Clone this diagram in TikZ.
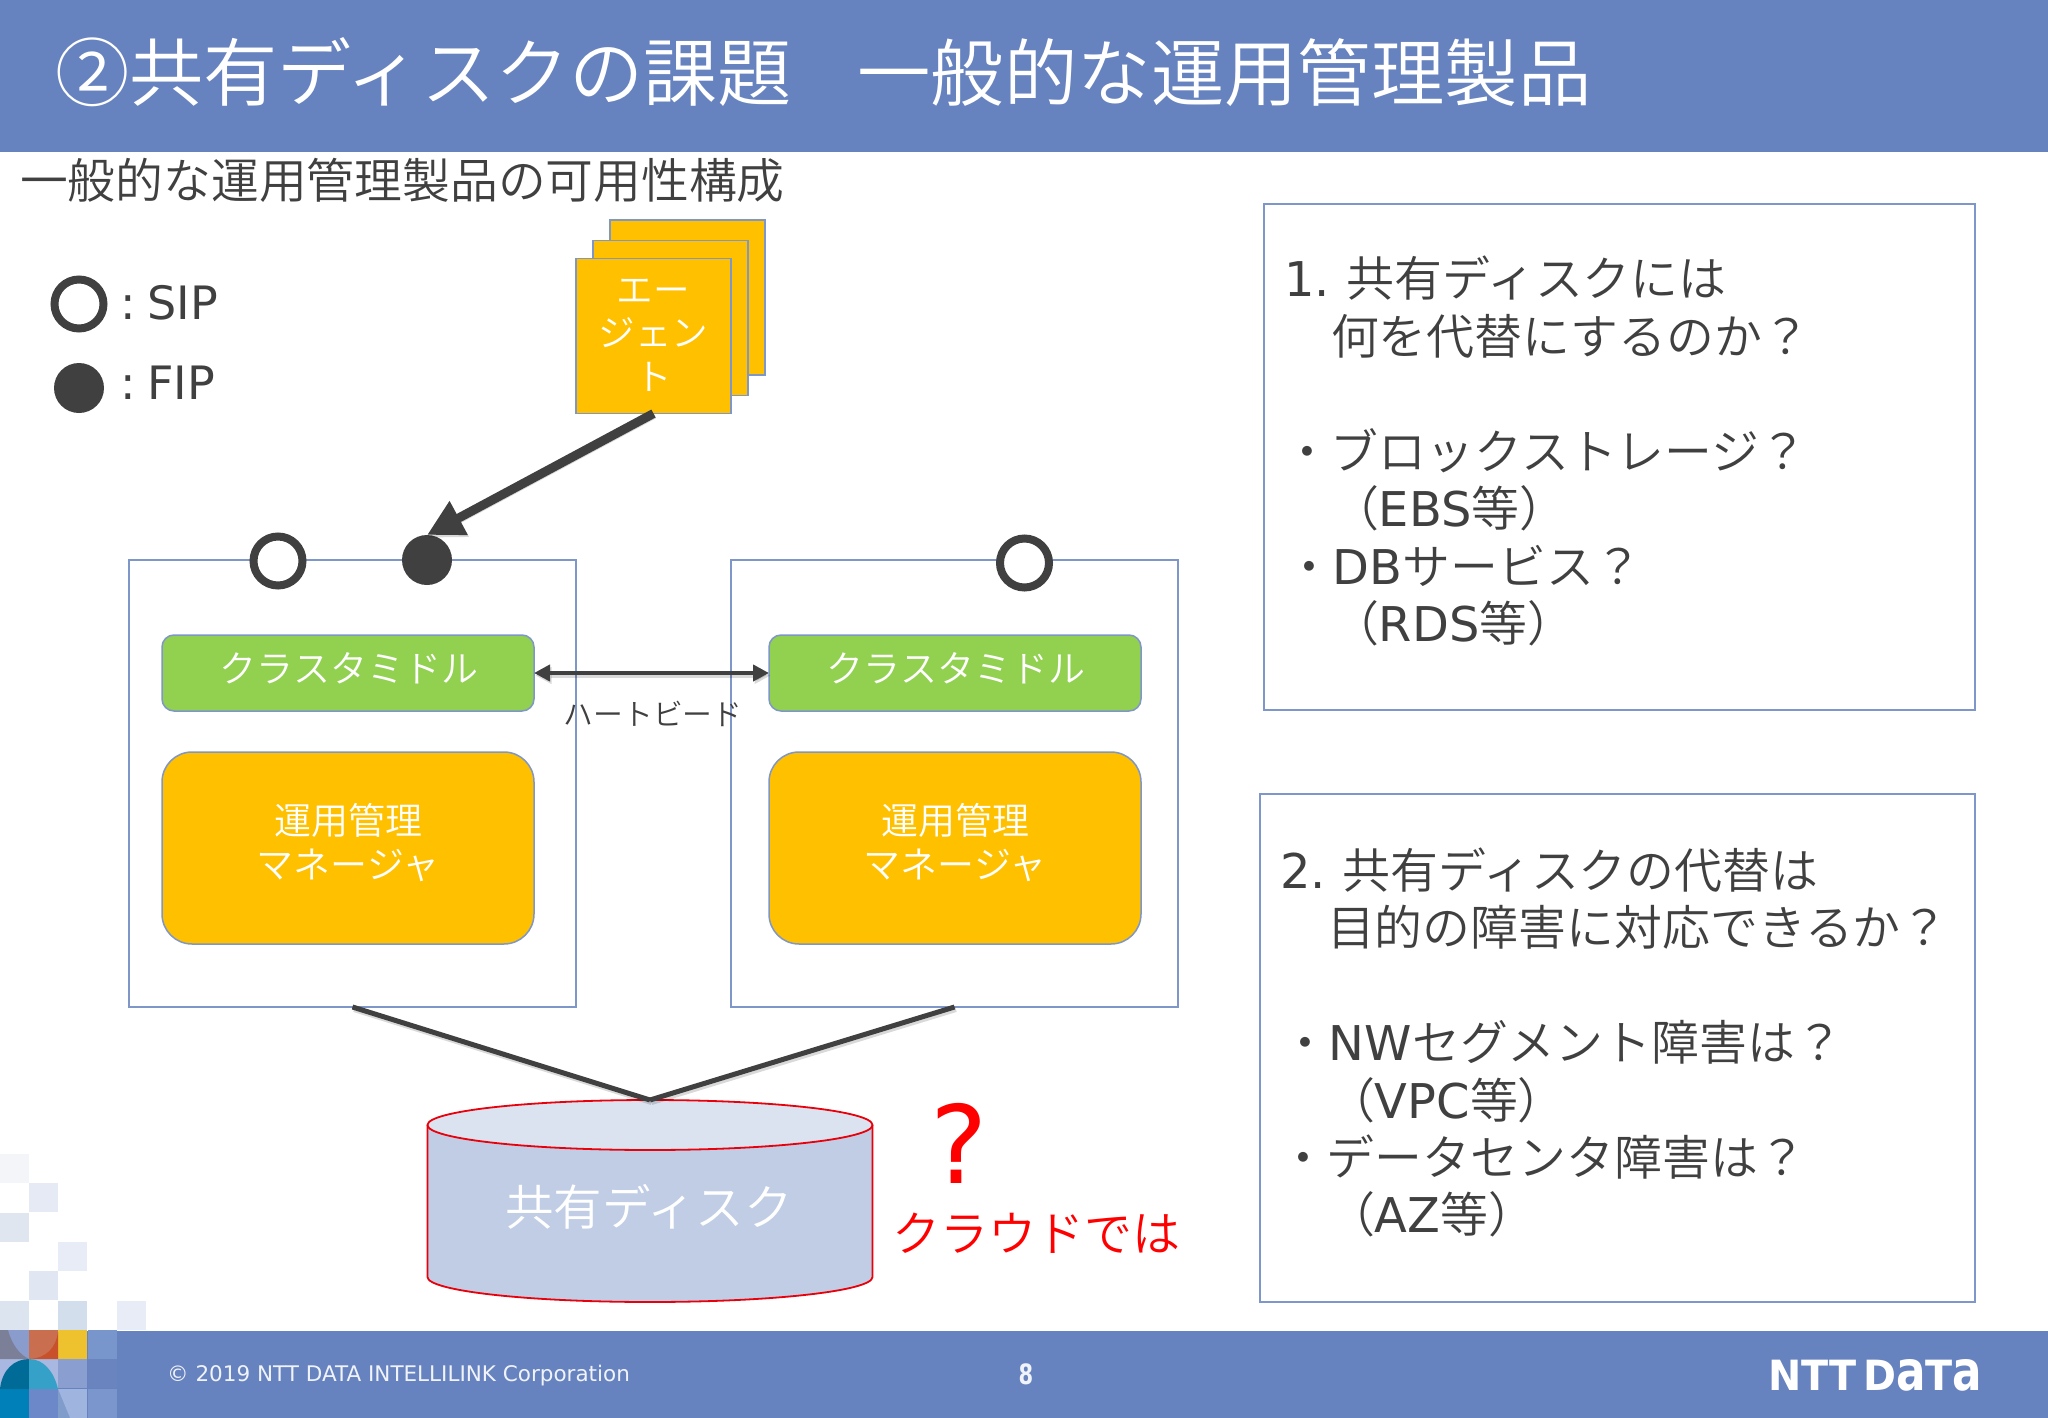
\documentclass[tikz,border=0pt]{standalone}
\usepackage{fontspec}
\usepackage{graphicx}
\usetikzlibrary{arrows.meta}
\setmainfont{DejaVu Sans}
\newfontfamily\jp{Noto Sans CJK JP DemiLight}
\newfontfamily\latf{DejaVu Sans}
\newcommand{\lat}[1]{{\latf #1}}
\newcommand{\fsz}[1]{\fontsize{#1}{#1}\selectfont}
\definecolor{band}{HTML}{6783BF}
\definecolor{edge}{HTML}{7F96C8}
\definecolor{ink}{HTML}{404040}
\definecolor{amber}{HTML}{FFC000}
\definecolor{leaf}{HTML}{92D050}
\definecolor{diskred}{HTML}{E8000B}
\definecolor{diskbody}{HTML}{C0CDE5}
\definecolor{disktop}{HTML}{DCE3F0}
\tikzset{
  x=1pt,y=-1pt,
  txt/.style={anchor=west,inner sep=0pt,outer sep=0pt,text=ink,font=\jp\fsz{47.9}},
  wtxt/.style={inner sep=0pt,outer sep=0pt,text=white,font=\jp\fsz{37},align=center},
  panel/.style={draw=edge,line width=1.5pt,fill=white,inner sep=0pt,outer sep=0pt},
  card/.style={panel,fill=amber,minimum width=155pt,minimum height=155pt},
  server/.style={panel,minimum width=447pt,minimum height=447pt},
  mid/.style={panel,fill=leaf,rounded corners=12pt,minimum width=372pt,minimum height=76pt},
  mgr/.style={panel,fill=amber,rounded corners=30pt,minimum width=372pt,minimum height=192pt},
  sip/.style={circle,draw=ink,line width=8pt,fill=white,minimum size=49pt,inner sep=0pt,outer sep=0pt},
  fip/.style={circle,fill=ink,minimum size=50pt,inner sep=0pt,outer sep=0pt},
  link/.style={draw=ink,line width=5pt,preaction={draw=black,opacity=.15,line width=5pt,transform canvas={shift={(1.5pt,-2.5pt)}}}},
  redtxt/.style={inner sep=0pt,outer sep=0pt,text=red,font=\jp\fsz{48}}
}
\newcommand{\cell}[3]{\definecolor{tmpc}{HTML}{#3}\fill[tmpc] (#1,#2) rectangle ++(29.3,29.3);}
\begin{document}
\begin{tikzpicture}
\useasboundingbox (0,0) rectangle (2048,1418);
\fill[white] (0,0) rectangle (2048,1418);
% header, footer
\fill[band] (0,0) rectangle (2048,152);
\fill[band] (0,1331) rectangle (2048,1418);
% mosaic above footer
\cell{0}{1154}{F3F5F8}
\cell{29}{1183}{E6EAF5}
\cell{0}{1213}{E0E6F0}
\cell{58}{1242}{E8ECF7}
\cell{29}{1271}{E0E6F2}
\cell{0}{1301}{DCE4F0}
\cell{58}{1301}{D3DEEC}
\cell{117}{1301}{E8ECF7}
% mosaic in footer
\cell{0}{1330}{8A9CCB}
\cell{29}{1330}{C96F50}
\cell{58}{1330}{EEC12E}
\cell{88}{1330}{7896CB}
\cell{0}{1359}{A8B8E0}
\cell{29}{1359}{A8B8E0}
\cell{58}{1359}{8A9FD0}
\cell{88}{1359}{6A84C0}
\cell{0}{1389}{0080B8}
\cell{29}{1389}{6D88C8}
\cell{58}{1389}{A0B4E0}
\cell{88}{1389}{7B96CC}
\definecolor{tmpc}{HTML}{006B96}
\fill[tmpc] (0,1389) .. controls (2,1370) and (14,1359) .. (29,1359) -- (29,1389) -- cycle;
\definecolor{tmpc}{HTML}{35A0C8}
\fill[tmpc] (29,1359) .. controls (44,1359) and (54,1372) .. (58,1389) -- (29,1389) -- cycle;
\definecolor{tmpc}{HTML}{7C7F98}
\fill[tmpc] (0,1330) -- (8,1330) .. controls (12,1345) and (20,1355) .. (29,1359) -- (0,1359) -- cycle;
\definecolor{tmpc}{HTML}{C8502A}
\fill[tmpc] (58,1332) .. controls (56,1348) and (46,1358) .. (30,1359) -- (58,1359) -- cycle;
\definecolor{tmpc}{HTML}{7F9CCB}
\fill[tmpc] (58,1389) -- (70,1418) -- (58,1418) -- cycle;
% titles
\node[anchor=west,inner sep=0pt,text=white,font=\jp\fsz{73.4}] (title) at (55,72) {{\fsz{74.2}②共有ディスクの課題}\kern-8pt　一般的な運用管理製品};
\node[txt,font=\jp\fsz{47.8}] (sub) at (20,180) {一般的な運用管理製品の可用性構成};
% legend
\node[sip] (lsip) at (79,304) {};
\node[fip] (lfip) at (79,388) {};
\node[txt,font=\latf\fsz{46}] (lsipt) at (120,303) {:\kern12pt SIP};
\node[txt,font=\latf\fsz{46}] (lfipt) at (120,383) {:\kern12pt FIP};
% agent cards
\node[card] (agentB) at (687.5,297.5) {};
\node[card] (agentM) at (670.5,318) {};
\node[card] (agentF) at (653.5,336) {};
\node[wtxt,text width=150pt,font=\jp\fsz{36.6},inner sep=0pt,align=center] (agentT) at (653.5,335) {エー\\[7pt]ジェン\\[7pt]ト};
% servers
\node[server] (srvL) at (352.5,783.5) {};
\node[server] (srvR) at (954.5,783.5) {};
\node[sip] (sipL) at (278,561) {};
\node[fip] (fipL) at (427,560) {};
\node[sip] (sipR) at (1024.5,563) {};
\node[mid] (midL) at (348,673) {};
\node[mid] (midR) at (955,673) {};
\node[wtxt] (midLt) at (349,668) {クラスタミドル};
\node[wtxt] (midRt) at (956,668) {クラスタミドル};
\node[mgr] (mgrL) at (348,848) {};
\node[mgr] (mgrR) at (955,848) {};
\node[wtxt] (mgrLt) at (348,843) {運用管理\\[7pt]マネージャ};
\node[wtxt] (mgrRt) at (955,843) {運用管理\\[7pt]マネージャ};
% disk
\coordinate (diskTop) at (650,1100);
\fill[diskbody] (427.5,1125) -- (427.5,1277) arc[start angle=180,end angle=360,x radius=222.5,y radius=-25] -- (872.5,1125) -- cycle;
\draw[diskred,line width=1.8pt] (427.5,1125) -- (427.5,1277) arc[start angle=180,end angle=360,x radius=222.5,y radius=-25] -- (872.5,1125);
\draw[diskred,line width=1.8pt,fill=disktop] (650,1125) ellipse[x radius=222.5,y radius=25];
\node[wtxt,font=\jp\fsz{48.5},text=white] (disk) at (649,1207) {共有ディスク};
\node[redtxt,font=\latf\fsz{108}] (qm) at (959,1143) {?};
\node[redtxt] (cloud) at (1036,1233) {クラウドでは};
% connectors
\draw[link,line width=9pt,-{Triangle[length=36pt,width=36pt]}] (agentF.south) -- (fipL.north);
\draw[link,line width=4.5pt,{Triangle[length=16pt,width=16pt]}-{Triangle[length=16pt,width=16pt]}] (midL.east) -- (midR.west);
\draw[link] (srvL.south) -- (diskTop);
\draw[link] (srvR.south) -- (diskTop);
\node[inner sep=0pt,text=ink,font=\jp\fsz{29.8}] (hb) at (653,714) {ハートビード};
% right panels
\node[panel,minimum width=711pt,minimum height=506pt] (box1) at (1619.5,457) {};
\node[panel,minimum width=715pt,minimum height=508pt] (box2) at (1617.5,1048) {};
\node[txt] (b1a) at (1284,278) {\lat{1.}\kern17pt 共有ディスクには};
\node[txt] (b1b) at (1331,336) {何を代替にするのか？};
\node[txt] (b1c) at (1283,451) {・ブロックストレージ？};
\node[txt] (b1d) at (1331,508) {（\lat{EBS}等）};
\node[txt] (b1e) at (1285,566) {・\lat{DB}サービス？};
\node[txt] (b1f) at (1331,623) {（\lat{RDS}等）};
\node[txt] (b2a) at (1280,870) {\lat{2.}\kern17pt 共有ディスクの代替は};
\node[txt] (b2b) at (1327,927) {目的の障害に対応できるか？};
\node[txt] (b2c) at (1281,1042) {・\lat{NW}セグメント障害は？};
\node[txt] (b2d) at (1327,1100) {（\lat{VPC}等）};
\node[txt] (b2e) at (1279,1157) {・データセンタ障害は？};
\node[txt] (b2f) at (1327,1214) {（\lat{AZ}等）};
% footer text
\node[anchor=west,inner sep=0pt,text=white!90!band,font=\latf\fsz{21.5}] (copy) at (167,1375.5) {© 2019 NTT DATA INTELLILINK Corporation};
\node[inner sep=0pt,text=white!90!band,font=\latf\bfseries\fsz{28}] (page) at (1026,1374) {\scalebox{.75}[1]{8}};
\node[anchor=west,inner sep=0pt,text=white,font=\latf\bfseries] (logo) at (1768,1375.5) {\resizebox{214pt}{31pt}{NTT\,D\scalebox{1.1}[1.33]{a}T\scalebox{1.1}[1.33]{a}}};
\end{tikzpicture}
\end{document}
